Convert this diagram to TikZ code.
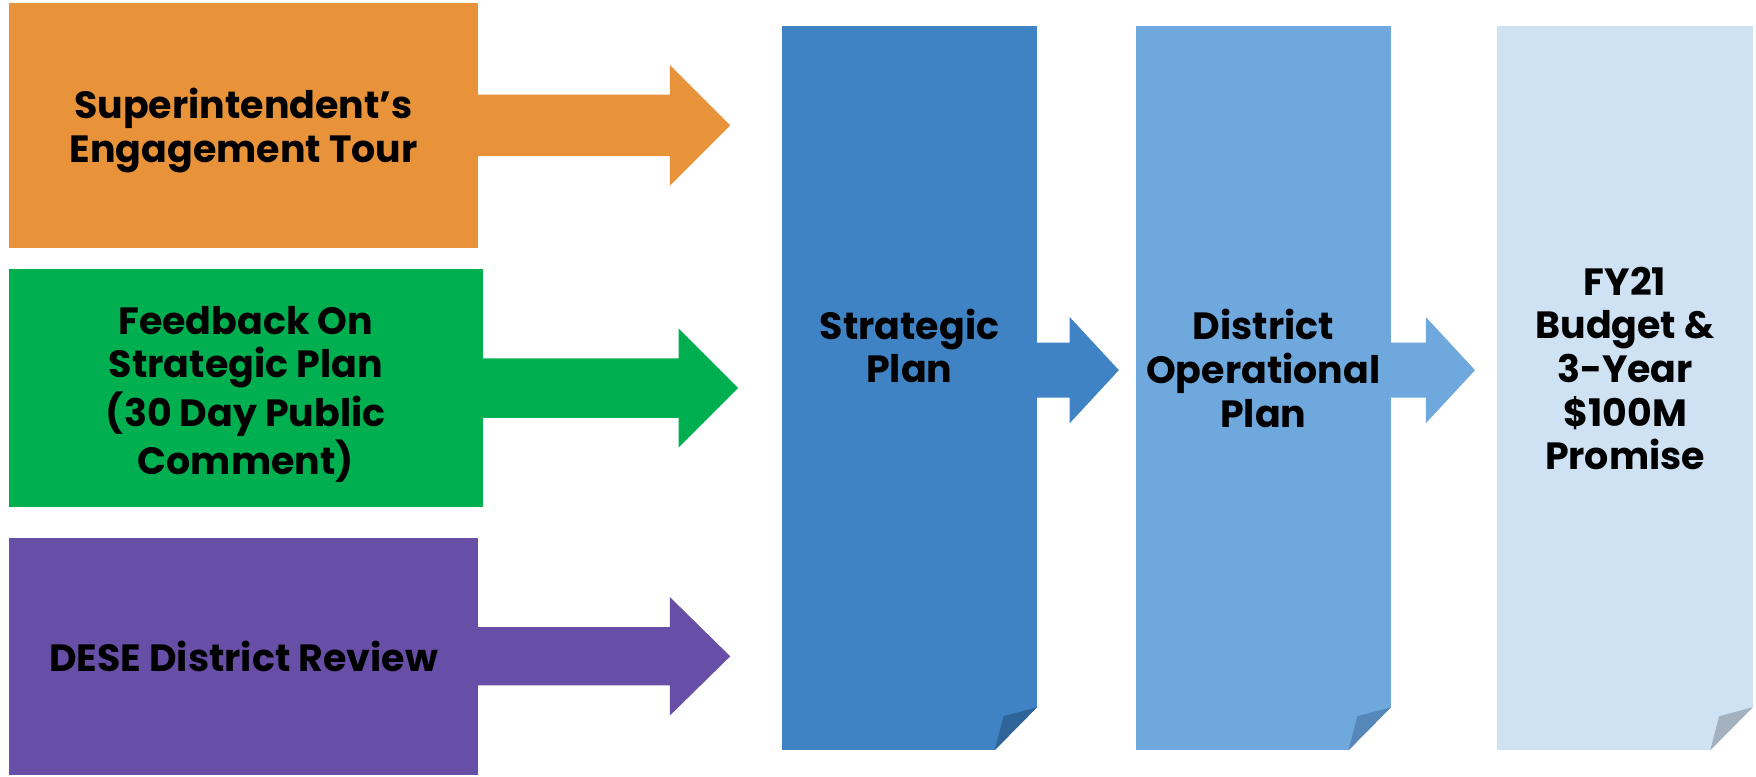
\documentclass[tikz,border=0pt]{standalone}
\usepackage{fontspec}
\setmainfont{Poppins}[BoldFont={* Bold}]
\usepackage{tikz}
\usetikzlibrary{positioning, calc}
\definecolor{tourcolor}{RGB}{232,146,57}
\definecolor{feedbackcolor}{RGB}{0,176,80}
\definecolor{desecolor}{RGB}{103,78,167}
\definecolor{stratcolor}{RGB}{63,131,197}
\definecolor{opscolor}{RGB}{111,168,220}
\definecolor{budgetcolor}{RGB}{207,226,243}
\definecolor{stratfold}{RGB}{47,100,152}
\definecolor{opsfold}{RGB}{85,135,185}
\definecolor{budgetfold}{RGB}{164,177,191}

\begin{document}
\begin{tikzpicture}[
    x=0.0112cm, y=-0.0112cm,
    inputbox/.style={inner sep=0pt, outer sep=0pt},
    column/.style={inner sep=0pt, outer sep=0pt, minimum width=2.554cm, minimum height=7.246cm},
    boxtext/.style={font=\bfseries\fontsize{10.8}{12.4}\selectfont, align=center}
]
    \useasboundingbox (0,0) rectangle (1567.9,692.9);

    % input boxes
    \node[inputbox, fill=tourcolor, minimum width=4.693cm, minimum height=2.442cm] (tour) at (217.5,112) {};
    \node[inputbox, fill=feedbackcolor, minimum width=4.738cm, minimum height=2.386cm] (feedback) at (219.5,346.5) {};
    \node[inputbox, fill=desecolor, minimum width=4.693cm, minimum height=2.374cm] (dese) at (217.5,586) {};

    \node[boxtext] (tourtext) at (217.5,116.5) {Superintendent's\\Engagement Tour};
    \node[boxtext] (feedbacktext) at (219.5,352) {Feedback On\\Strategic Plan\\(30 Day Public\\Comment)};
    \node[boxtext] (desetext) at (217.5,586) {DESE District Review};

    % block arrows into the strategic plan
    \fill[tourcolor] (tour.east) ++(0,-27.5) -- ++(171,0) -- ++(0,-26.5) -- ++(54,54) -- ++(-54,54) -- ++(0,-26.5) -- ++(-171,0) -- cycle;
    \fill[feedbackcolor] (feedback.east) ++(0,-26.5) -- ++(175,0) -- ++(0,-26.5) -- ++(53,53) -- ++(-53,53) -- ++(0,-26.5) -- ++(-175,0) -- cycle;
    \fill[desecolor] (dese.east) ++(0,-26) -- ++(171,0) -- ++(0,-27) -- ++(54,53) -- ++(-54,53) -- ++(0,-27) -- ++(-171,0) -- cycle;

    % plan columns
    \node[column, fill=stratcolor] (strat) at (812,346.5) {};
    \node[column, fill=opscolor] (ops) at (1128,346.5) {};
    \node[column, fill=budgetcolor] (budget) at (1451,346.5) {};

    % folded corners
    \foreach \col/\fold in {strat/stratfold, ops/opsfold, budget/budgetfold} {
        \fill[white] (\col.south east) -- ++(0,-38.5) -- ++(-38,38.5) -- cycle;
        \fill[\fold] (\col.south east) ++(0,-38.5) -- ++(-30,8) -- ++(-8,30.5) -- cycle;
    }

    % block arrows between columns
    \fill[stratcolor] ($(strat.east)+(0,-40.5)$) -- ++(29,0) -- ++(0,-23) -- ++(44,47.5) -- ++(-44,47.5) -- ++(0,-23) -- ++(-29,0) -- cycle;
    \fill[opscolor] ($(ops.east)+(0,-40.5)$) -- ++(31,0) -- ++(0,-23) -- ++(44,47.5) -- ++(-44,47.5) -- ++(0,-23) -- ++(-31,0) -- cycle;

    % column labels
    \node[boxtext] (strattext) at (812,309) {Strategic\\Plan};
    \node[boxtext] (opstext) at (1128,329) {District\\Operational\\Plan};
    \node[boxtext] (budgettext) at (1451,329) {FY21\\Budget \&\\3-Year\\\$100M\\Promise};
\end{tikzpicture}
\end{document}
